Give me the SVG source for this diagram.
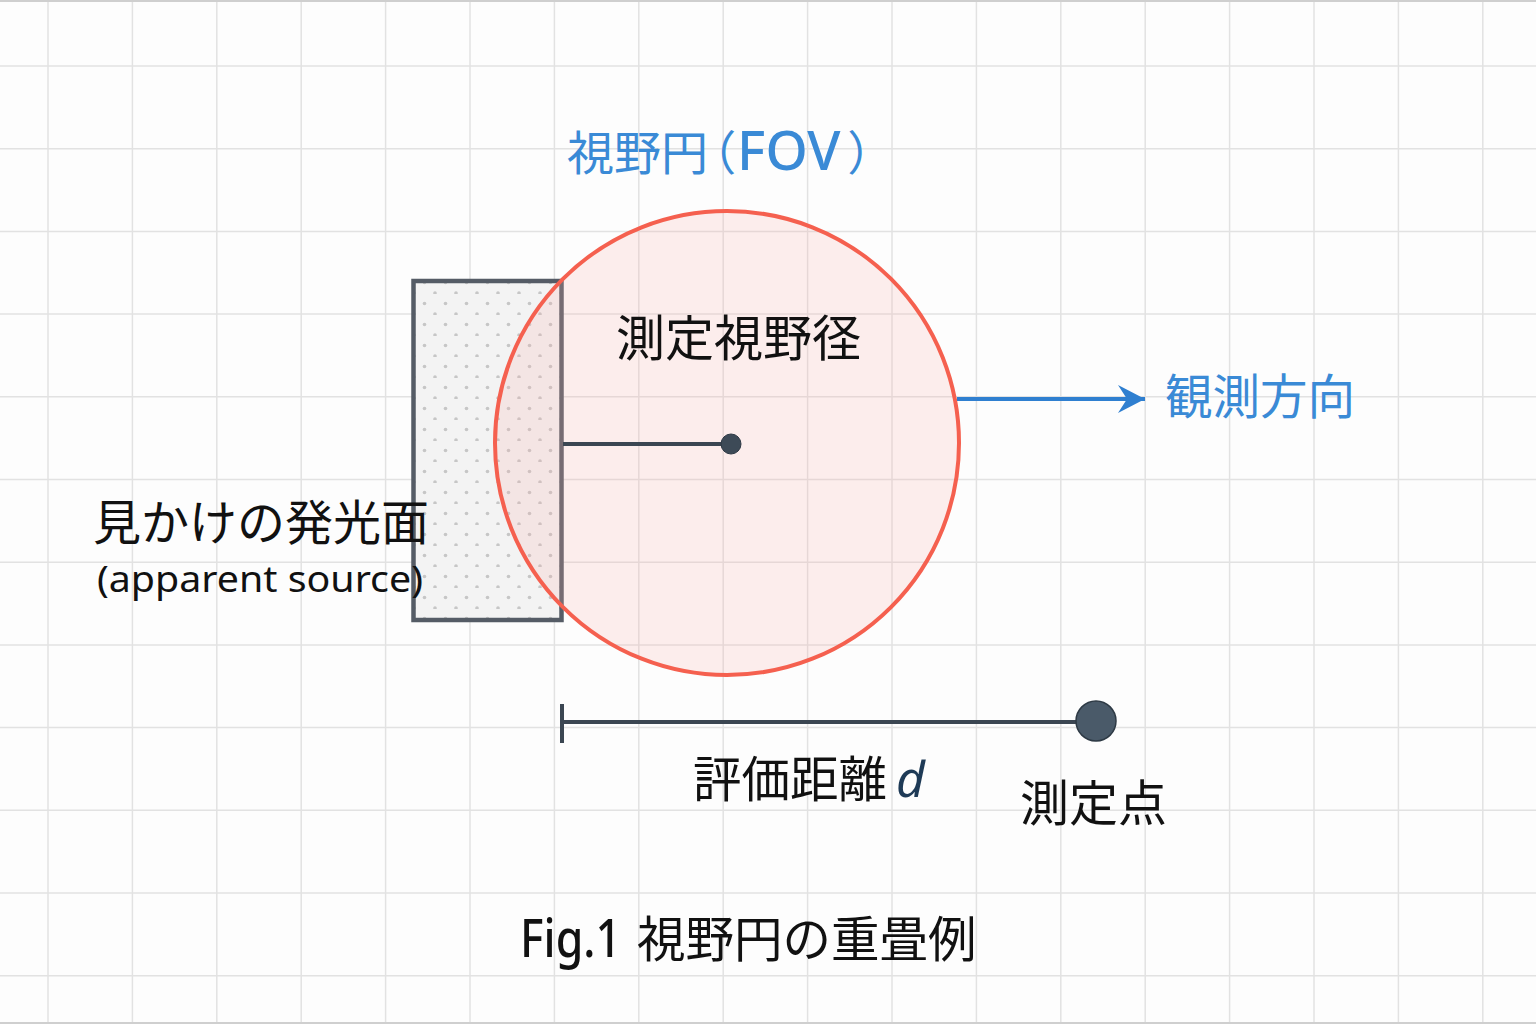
<svg xmlns="http://www.w3.org/2000/svg" width="1536" height="1024" viewBox="0 0 1536 1024">
  <style>
    .grid { stroke: #e2e2e2; stroke-width: 1.5; fill: none; }
    .jp { font-family: "Noto Sans CJK JP", "Noto Sans", sans-serif; }
    .lat { font-family: "Noto Sans", "Noto Sans CJK JP", sans-serif; }
    .palt { font-feature-settings: "palt" 1; }
    .blue { fill: #3a8ad6; }
    .black { fill: #111111; }
    .conn { stroke: #3b4652; stroke-width: 4; fill: none; }
  </style>
  <defs>
    <pattern id="dots" patternUnits="userSpaceOnUse" width="21" height="21" x="0" y="0">
      <circle cx="15" cy="20" r="1.8" fill="#c6c6c6"/>
      <circle cx="4.5" cy="9.5" r="1.8" fill="#c6c6c6"/>
    </pattern>
    <marker id="arrowBlue" markerUnits="userSpaceOnUse" markerWidth="30" markerHeight="30" refX="27" refY="14" orient="auto" viewBox="0 0 30 28">
      <path d="M27,14 L0,0 L9,14 L0,28 Z" fill="#2f7fd0"/>
    </marker>
  </defs>

  <rect x="0" y="0" width="1536" height="1024" fill="#fdfdfd"/>
  <g id="grid">
    <path class="grid" d="M48,0V1024 M132.4,0V1024 M216.8,0V1024 M301.2,0V1024 M385.6,0V1024 M470,0V1024 M554.4,0V1024 M638.8,0V1024 M723.2,0V1024 M807.6,0V1024 M892,0V1024 M976.4,0V1024 M1060.8,0V1024 M1145.2,0V1024 M1229.6,0V1024 M1314,0V1024 M1398.4,0V1024 M1482.8,0V1024"/>
    <path class="grid" d="M0,66H1536 M0,148.7H1536 M0,231.4H1536 M0,314.1H1536 M0,396.8H1536 M0,479.5H1536 M0,562.2H1536 M0,644.9H1536 M0,727.6H1536 M0,810.3H1536 M0,893H1536 M0,975.7H1536"/>
    <path d="M0,1H1536 M0,1023H1536" stroke="#cfcfcf" stroke-width="2"/>
  </g>

  <g id="apparent-source">
    <rect x="413.5" y="281" width="148" height="339" fill="#f3f3f3"/>
    <rect x="413.5" y="281" width="148" height="339" fill="url(#dots)" stroke="#555c66" stroke-width="4.5"/>
  </g>

  <g id="fov-circle">
    <circle cx="727" cy="443" r="232" fill="#f8b0a8" fill-opacity="0.2" stroke="#f5604f" stroke-width="4"/>
  </g>

  <g id="connectors">
    <line id="radius" class="conn" x1="563" y1="444" x2="731" y2="444"/>
    <line id="direction" x1="957" y1="399" x2="1145" y2="399" stroke="#2f7fd0" stroke-width="4" marker-end="url(#arrowBlue)"/>
    <path id="distance" class="conn" d="M562,704V743 M562,722H1090"/>
  </g>

  <g id="fov-center">
    <circle cx="731" cy="444" r="10" fill="#3d4a57" stroke="#2e3945" stroke-width="1"/>
  </g>

  <g id="measure-point">
    <circle cx="1096" cy="721" r="20" fill="#4a5a69" stroke="#2e3a45" stroke-width="1.5"/>
  </g>

  <g id="labels">
    <g id="label-fov" class="blue">
      <text class="jp" x="567" y="170" font-size="47">視野円</text>
      <text class="jp palt" x="711" y="170" font-size="47">（</text>
      <text class="lat" x="737" y="170" font-size="54" font-weight="500">FOV</text>
      <text class="jp palt" x="849" y="170" font-size="47">）</text>
    </g>
    <text class="jp black" x="616" y="356" font-size="49">測定視野径</text>
    <text class="jp blue" x="1165" y="414" font-size="47.5">観測方向</text>
    <text id="label-source" class="jp black"><tspan x="93" y="540" font-size="48">見かけの発光面</tspan><tspan class="lat" x="97" y="592" font-size="37" textLength="326" lengthAdjust="spacingAndGlyphs">(apparent source)</tspan></text>
    <g id="label-distance">
      <text class="jp black" x="693" y="797" font-size="48.5">評価距離</text>
      <text class="lat" x="896" y="797" font-size="50" font-style="italic" fill="#1e3a56">d</text>
    </g>
    <text class="jp black" x="1020" y="821" font-size="49">測定点</text>
    <g id="label-caption" class="black">
      <text class="lat" x="520" y="957" font-size="52" font-weight="500" textLength="101" lengthAdjust="spacingAndGlyphs">Fig.1</text>
      <text class="jp" x="637" y="957" font-size="48.5">視野円の重畳例</text>
    </g>
  </g>
</svg>
